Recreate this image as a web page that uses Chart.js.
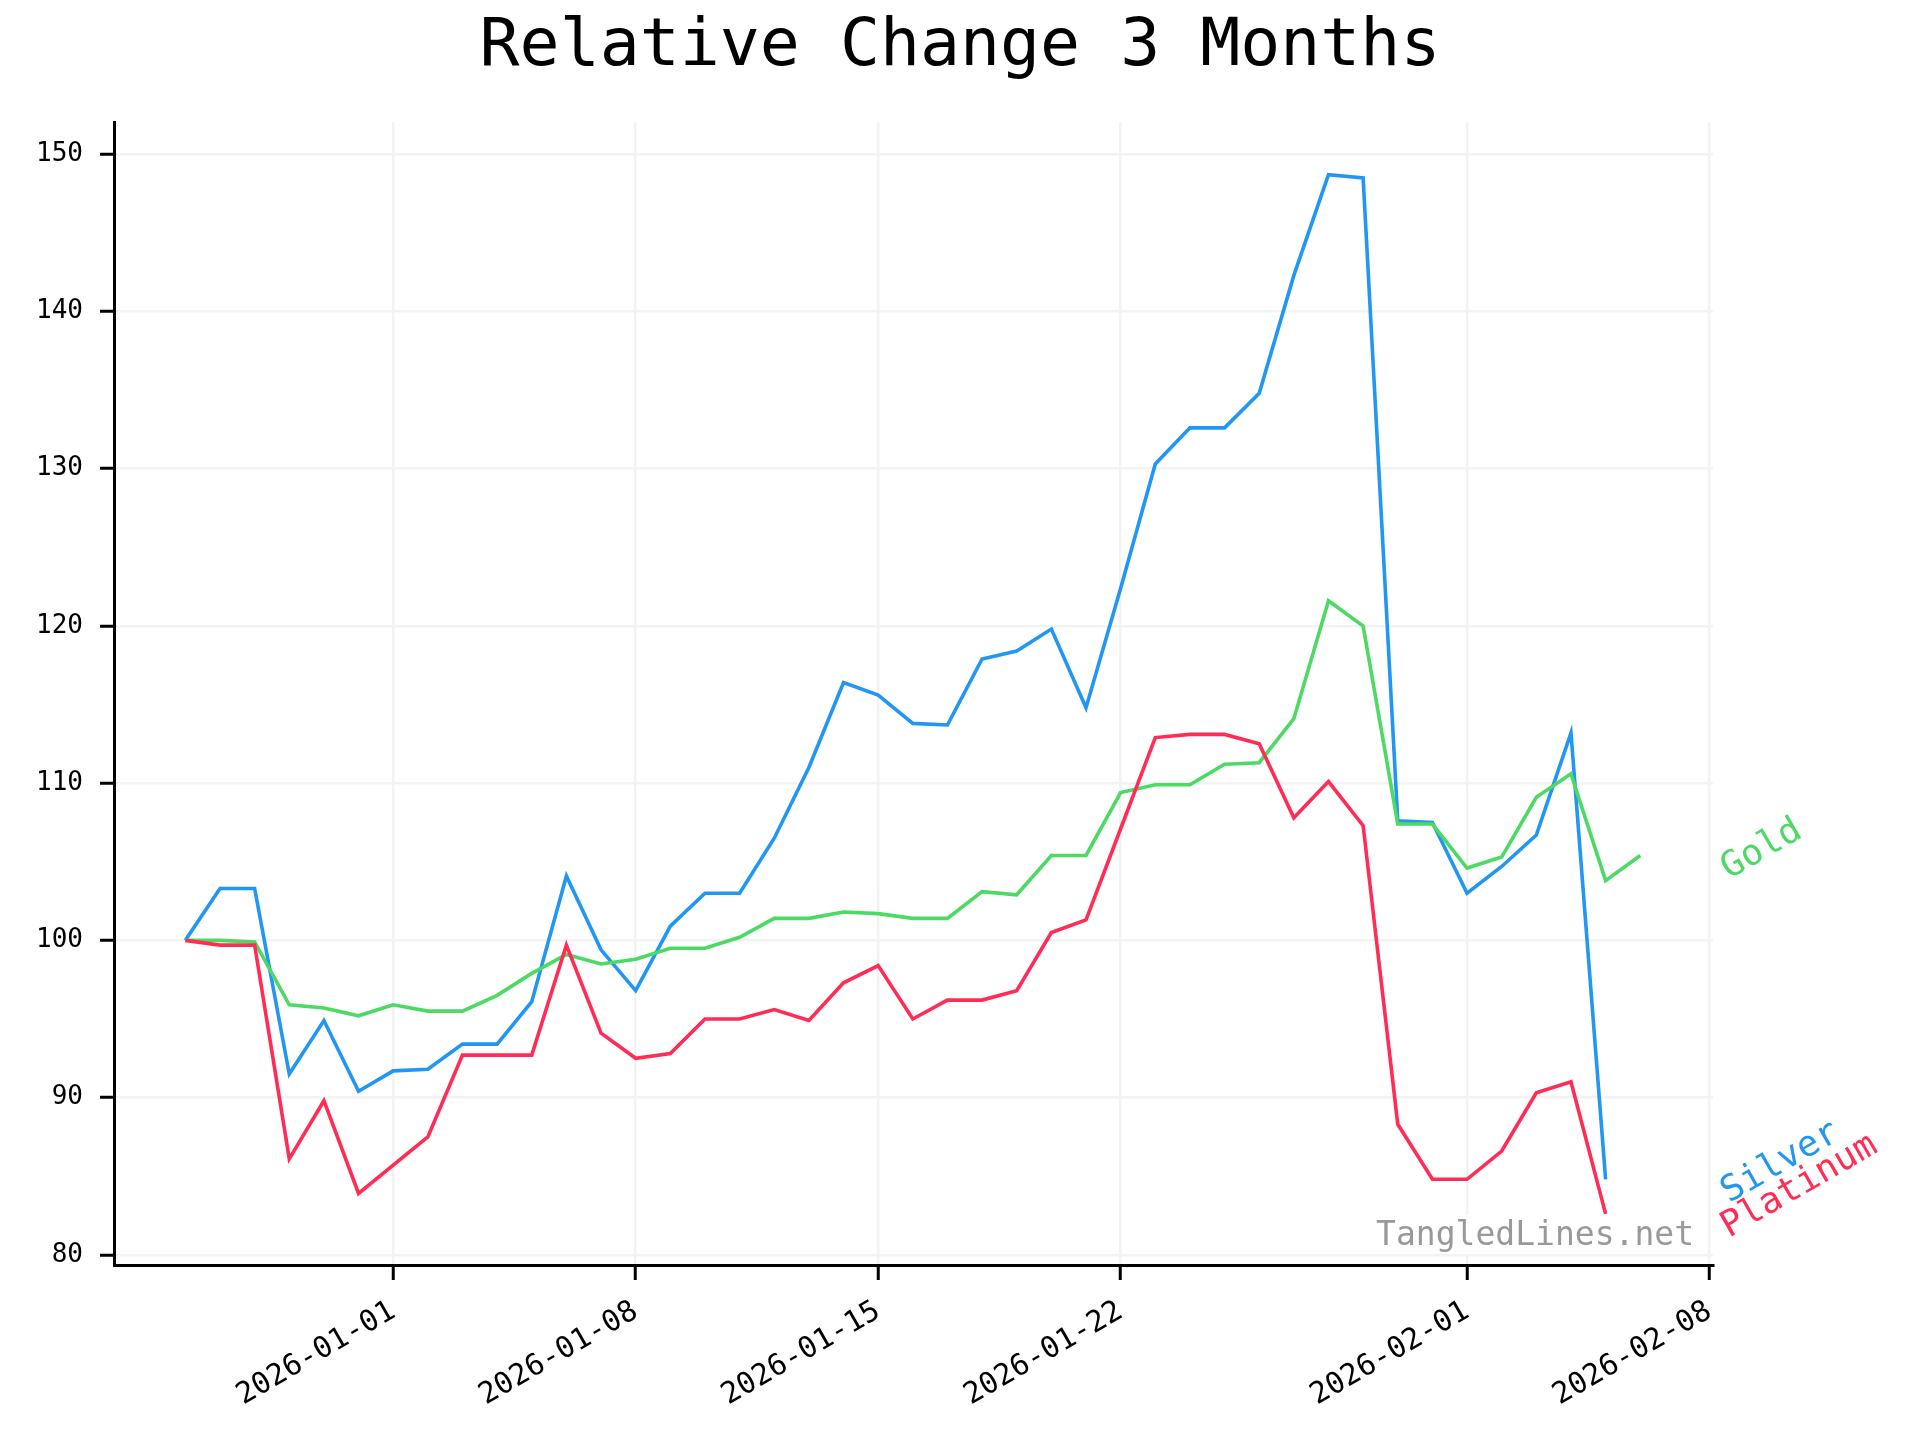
<!DOCTYPE html>
<html>
<head>
<meta charset="utf-8">
<title>Relative Change 3 Months</title>
<script src="https://cdn.jsdelivr.net/npm/chart.js@4.4.1/dist/chart.umd.min.js"></script>
<style>
  html, body { margin: 0; padding: 0; background: #fff; }
  #chart { display: block; }
</style>
</head>
<body>
<canvas id="chart" width="1920" height="1440"></canvas>
<script>
const START_DATE = '2025-12-26';
const tickLabels = ['2026-01-01', '2026-01-08', '2026-01-15', '2026-01-22', '2026-02-01', '2026-02-08'];
const yTicks = [80, 90, 100, 110, 120, 130, 140, 150];

// daily values, first point = 2025-12-26 (index 0)
const silver = [100, 103.3, 103.3, 91.5, 94.9, 90.4, 91.7, 91.8, 93.4, 93.4,
    96.1, 104.1, 99.4, 96.8, 100.9, 103.0, 103.0, 106.5, 111.0, 116.4,
    115.6, 113.8, 113.7, 117.9, 118.4, 119.8, 114.8, 122.4, 130.3, 132.6,
    132.6, 134.8, 142.3, 148.7, 148.5, 107.6, 107.5, 103.0, 104.7, 106.7,
    113.2, 84.8];
const gold = [100, 100.0, 99.9, 95.9, 95.7, 95.2, 95.9, 95.5, 95.5, 96.5,
    97.9, 99.1, 98.5, 98.8, 99.5, 99.5, 100.2, 101.4, 101.4, 101.8,
    101.7, 101.4, 101.4, 103.1, 102.9, 105.4, 105.4, 109.4, 109.9, 109.9,
    111.2, 111.3, 114.1, 121.6, 120.0, 107.4, 107.4, 104.6, 105.3, 109.1,
    110.6, 103.8, 105.4];
const platinum = [100, 99.7, 99.7, 86.1, 89.8, 83.9, 85.7, 87.5, 92.7, 92.7,
    92.7, 99.7, 94.1, 92.5, 92.8, 95.0, 95.0, 95.6, 94.9, 97.3,
    98.4, 95.0, 96.2, 96.2, 96.8, 100.5, 101.3, 107.1, 112.9, 113.1,
    113.1, 112.5, 107.8, 110.1, 107.3, 88.3, 84.8, 84.8, 86.6, 90.3,
    91.0, 82.6];

const seriesNames = ['Platinum', 'Gold', 'Silver'];
const seriesColors = ['#ff2d55', '#4cd964', '#2196f3'];
const seriesValues = [platinum, gold, silver];

const MONO = '"DejaVu Sans Mono", "Liberation Mono", monospace';

function dayIndex(dateStr) {
    return Math.round((Date.parse(dateStr) - Date.parse(START_DATE)) / 86400000);
}
const tickDays = tickLabels.map(dayIndex);

const datasets = seriesValues.map((vals, i) => ({
    label: seriesNames[i],
    data: vals.map((v, k) => ({ x: k, y: v })),
    borderColor: seriesColors[i],
    borderWidth: 3.6,
    pointRadius: 0,
    tension: 0,
    fill: false
}));

// end-of-line labels and watermark
const annotations = {
    id: 'annotations',
    afterDatasetsDraw(chart) {
        const { ctx, chartArea, scales } = chart;
        ctx.save();
        ctx.font = '36px ' + MONO;
        seriesValues.forEach((vals, i) => {
            const y = scales.y.getPixelForValue(vals[vals.length - 1]);
            ctx.save();
            ctx.translate(chartArea.right + 16, y + 24);
            ctx.rotate(-Math.PI / 6);
            ctx.fillStyle = seriesColors[i];
            ctx.textAlign = 'left';
            ctx.textBaseline = 'alphabetic';
            ctx.fillText(seriesNames[i], 0, 0);
            ctx.restore();
        });

        ctx.font = '33px ' + MONO;
        const mark = 'TangledLines.net';
        const w = ctx.measureText(mark).width;
        const xr = chartArea.right - 19;
        const yb = chartArea.bottom - 20;
        ctx.fillStyle = '#fff';
        ctx.fillRect(xr - w - 3, yb - 30, w + 16, 39);
        ctx.fillStyle = '#999999';
        ctx.textAlign = 'right';
        ctx.textBaseline = 'alphabetic';
        ctx.fillText(mark, xr, yb);
        ctx.restore();
    }
};

new Chart(document.getElementById('chart'), {
    type: 'line',
    data: { datasets },
    plugins: [annotations],
    options: {
        responsive: false,
        devicePixelRatio: 1,
        animation: false,
        layout: { padding: 0 },
        plugins: {
            legend: { display: false },
            tooltip: { enabled: false },
            title: {
                display: true,
                text: 'Relative Change 3 Months',
                color: '#000',
                font: { family: MONO, size: 66.5, weight: 'normal' },
                padding: { top: 8, bottom: 34.3 }
            }
        },
        scales: {
            x: {
                type: 'linear',
                min: -2.06,
                max: 44.1,
                afterBuildTicks: s => { s.ticks = tickDays.map(v => ({ value: v })); },
                afterFit: s => { s.height = 175; },
                grid: { color: '#f3f3f3', lineWidth: 2.5, tickColor: '#000', tickWidth: 3, tickLength: 15 },
                border: { color: '#000', width: 3 },
                ticks: {
                    autoSkip: false,
                    minRotation: 30,
                    maxRotation: 30,
                    padding: 14,
                    color: '#000',
                    font: { family: MONO, size: 29.5 },
                    callback: v => tickLabels[tickDays.indexOf(v)]
                }
            },
            y: {
                type: 'linear',
                min: 79.35,
                max: 152.05,
                afterBuildTicks: s => { s.ticks = yTicks.map(v => ({ value: v })); },
                afterFit: s => { s.width = 114; },
                grid: { color: '#f3f3f3', lineWidth: 2.5, tickColor: '#000', tickWidth: 3, tickLength: 14 },
                border: { color: '#000', width: 3 },
                ticks: {
                    padding: 17,
                    color: '#000',
                    font: { family: MONO, size: 26 }
                }
            },
            // empty box on the right keeps room for the end labels
            spacer: {
                type: 'linear',
                position: 'right',
                display: true,
                afterFit: s => { s.width = 207; },
                grid: { display: false, drawTicks: false },
                border: { display: false },
                ticks: { display: false }
            }
        }
    }
});
</script>
</body>
</html>
